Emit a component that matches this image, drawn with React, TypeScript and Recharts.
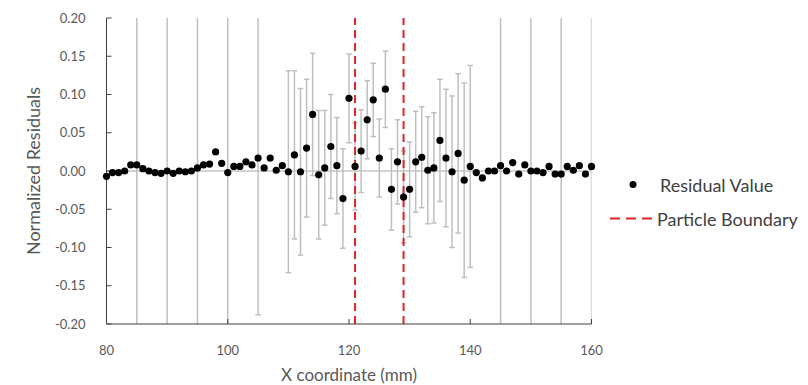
import React from 'react';
import { ScatterChart, Scatter, XAxis, YAxis, ReferenceLine, Legend, Label } from 'recharts';

// x positions (mm)
const xCoords = [
  80, 81, 82, 83, 84, 85, 86, 87, 88, 89, 90, 91, 92, 93, 94, 95, 96, 97, 98, 99,
  100, 101, 102, 103, 104, 105, 106, 107, 108, 109, 110, 111, 112, 113, 114, 115, 116, 117, 118, 119,
  120, 121, 122, 123, 124, 125, 126, 127, 128, 129, 130, 131, 132, 133, 134, 135, 136, 137, 138, 139,
  140, 141, 142, 143, 144, 145, 146, 147, 148, 149, 150, 151, 152, 153, 154, 155, 156, 157, 158, 159, 160,
];

const residuals = [
  -0.007, -0.002, -0.002, 0.0, 0.008, 0.008, 0.003, 0.0, -0.002, -0.003,
  0.0, -0.003, 0.0, -0.001, 0.0, 0.004, 0.008, 0.009, 0.025, 0.01,
  -0.002, 0.006, 0.006, 0.012, 0.008, 0.017, 0.004, 0.017, 0.001, 0.007,
  -0.001, 0.021, -0.001, 0.03, 0.074, -0.005, 0.004, 0.032, 0.007, -0.036,
  0.095, 0.006, 0.026, 0.067, 0.093, 0.017, 0.107, -0.024, 0.012, -0.034,
  -0.024, 0.012, 0.018, 0.001, 0.004, 0.04, 0.017, -0.001, 0.023, -0.012,
  0.006, -0.002, -0.009, 0.0, 0.0, 0.007, 0.0, 0.011, -0.004, 0.008,
  0.0, 0.0, -0.002, 0.006, -0.004, -0.004, 0.006, 0.001, 0.007, -0.004, 0.006,
];

// points that carry error bars and their half-widths
const errorXs = [
  85, 90, 95, 100, 105, 110, 111, 112, 113, 114, 115, 116, 117, 118, 119, 120, 121, 122, 123, 124,
  125, 126, 127, 128, 129, 130, 131, 132, 133, 134, 135, 136, 137, 138, 139, 140, 145, 150, 155, 160,
];
const errorSizes = [
  0.5, 0.5, 0.5, 0.5, 0.205, 0.132, 0.11, 0.109, 0.09, 0.08, 0.084, 0.075, 0.068, 0.063, 0.065, 0.058,
  0.057, 0.054, 0.051, 0.048, 0.051, 0.05, 0.053, 0.055, 0.06, 0.062, 0.066, 0.066, 0.07, 0.072,
  0.08, 0.09, 0.099, 0.104, 0.127, 0.132, 0.5, 0.5, 0.5, 0.5,
];

const boundaries = [121, 129];
const xTicks = [80, 100, 120, 140, 160];
const yTicks = [-0.2, -0.15, -0.1, -0.05, 0, 0.05, 0.1, 0.15, 0.2];
const seriesNames = ['Residual Value', 'Particle Boundary'];

const points = xCoords.map((x, i) => ({ x, y: residuals[i] }));
const errorBars = errorXs.map((x, i) => ({ x, y: residuals[xCoords.indexOf(x)], err: errorSizes[i] }));

const font = 'Lato, "Open Sans", sans-serif';
const labelColor = '#595959';
const red = '#e0232b';
const errColor = '#bfbfbf';
const capHalf = 0.45; // cap half-width in mm

function ChartLegend() {
  return (
    <svg width={198} height={64} style={{ display: 'block' }}>
      <circle cx={23} cy={14.5} r={3.5} fill="#000" />
      <text x={50} y={14.5} dominantBaseline="central" fontFamily={font} fontSize={18} fill="#404040">
        {seriesNames[0]}
      </text>
      <line x1={0} x2={43} y1={48.5} y2={48.5} stroke={red} strokeWidth={2} strokeDasharray="10 6" />
      <text x={47} y={48.5} dominantBaseline="central" fontFamily={font} fontSize={18} fill="#404040">
        {seriesNames[1]}
      </text>
    </svg>
  );
}

export default function App() {
  return (
    <div style={{ position: 'absolute', left: 0, top: 0, width: 808, height: 385, background: '#fff' }}>
      <ScatterChart width={808} height={385} margin={{ top: 18, right: 216.5, bottom: 0, left: 0 }}>
        <XAxis
          type="number"
          dataKey="x"
          domain={[80, 160]}
          ticks={xTicks}
          height={61}
          axisLine={{ stroke: '#404040' }}
          tickLine={{ stroke: '#404040' }}
          tickSize={-5}
          tickMargin={27}
          tick={{ fill: labelColor, fontSize: 13, fontFamily: font }}
        >
          <Label
            content={({ viewBox }: any) => (
              <text
                x={viewBox.x + viewBox.width / 2}
                y={viewBox.y + 50}
                textAnchor="middle"
                dominantBaseline="central"
                fontFamily={font}
                fontSize={17}
                fill={labelColor}
              >
                X coordinate (mm)
              </text>
            )}
          />
        </XAxis>
        <YAxis
          type="number"
          dataKey="y"
          domain={[-0.2, 0.2]}
          allowDataOverflow
          ticks={yTicks}
          width={106.5}
          axisLine={{ stroke: '#404040' }}
          tickLine={{ stroke: '#404040' }}
          tickSize={-5}
          tickMargin={26}
          tickFormatter={(v: number) => v.toFixed(2)}
          tick={{ fill: labelColor, fontSize: 13, fontFamily: font }}
        >
          <Label
            content={({ viewBox }: any) => {
              const cx = 33;
              const cy = viewBox.y + viewBox.height / 2;
              return (
                <text
                  x={cx}
                  y={cy}
                  transform={`rotate(-90 ${cx} ${cy})`}
                  textAnchor="middle"
                  dominantBaseline="central"
                  fontFamily={font}
                  fontSize={18}
                  fill={labelColor}
                >
                  Normalized Residuals
                </text>
              );
            }}
          />
        </YAxis>
        <ReferenceLine y={0} stroke="#a6a6a6" strokeWidth={1} />
        {errorBars.map((e) => (
          <ReferenceLine
            key={`s${e.x}`}
            ifOverflow="hidden"
            segment={[{ x: e.x, y: e.y - e.err }, { x: e.x, y: e.y + e.err }]}
            stroke={errColor}
            strokeWidth={1.5}
          />
        ))}
        {errorBars.map((e) => (
          <ReferenceLine
            key={`t${e.x}`}
            ifOverflow="hidden"
            segment={[{ x: e.x - capHalf, y: e.y + e.err }, { x: e.x + capHalf, y: e.y + e.err }]}
            stroke={errColor}
            strokeWidth={1.5}
          />
        ))}
        {errorBars.map((e) => (
          <ReferenceLine
            key={`b${e.x}`}
            ifOverflow="hidden"
            segment={[{ x: e.x - capHalf, y: e.y - e.err }, { x: e.x + capHalf, y: e.y - e.err }]}
            stroke={errColor}
            strokeWidth={1.5}
          />
        ))}
        {boundaries.map((b) => (
          <ReferenceLine key={b} x={b} stroke={red} strokeWidth={2} strokeDasharray="8 5" />
        ))}
        <Scatter
          name={seriesNames[0]}
          data={points}
          isAnimationActive={false}
          shape={(p: any) => <circle cx={p.cx} cy={p.cy} r={3.6} fill="#000" />}
        />
        <Legend
          layout="horizontal"
          verticalAlign="middle"
          align="center"
          content={() => <ChartLegend />}
          wrapperStyle={{ left: 610, top: 170, width: 198 }}
        />
      </ScatterChart>
    </div>
  );
}
